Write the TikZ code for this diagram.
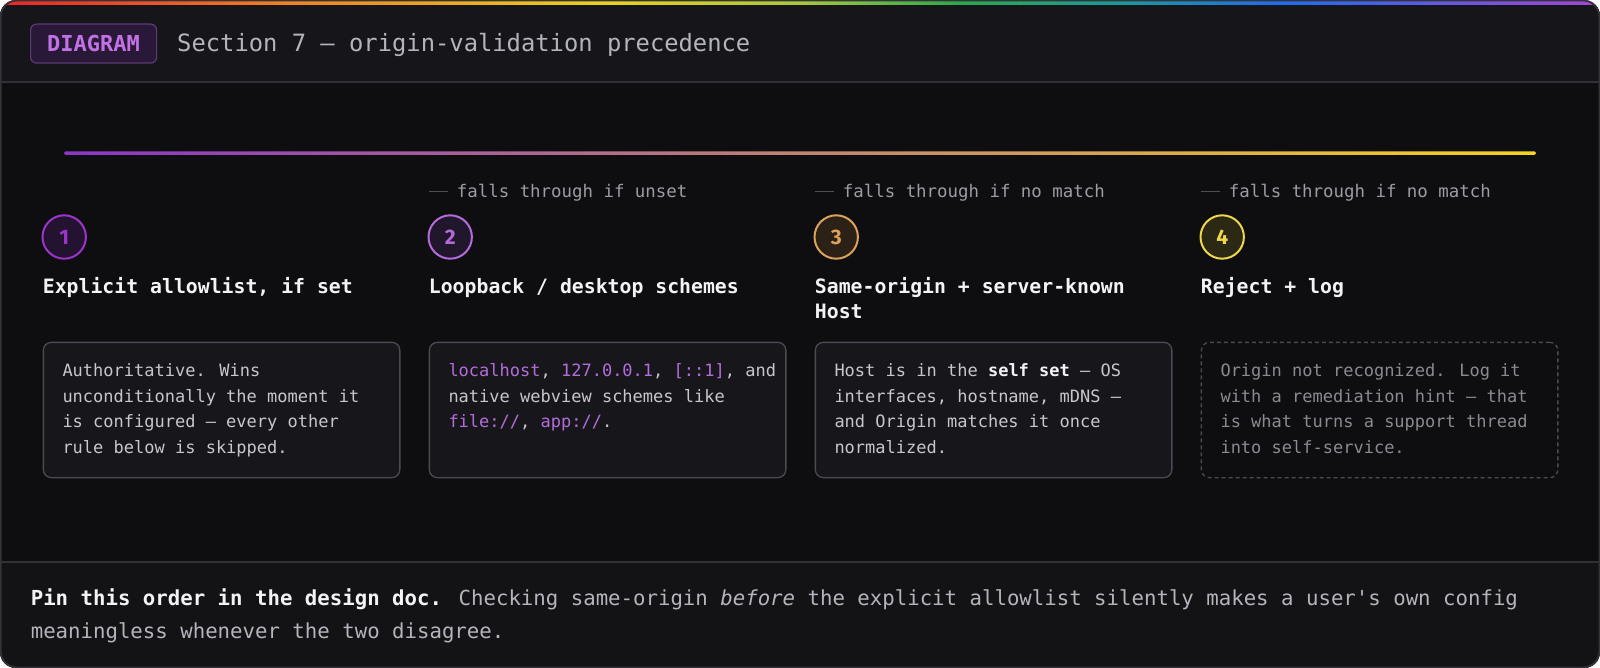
\documentclass[tikz,border=0pt]{standalone}
\usepackage{fontspec}
\setmainfont{DejaVu Sans Mono}
\newfontfamily\numfont{Fira Sans}
\definecolor{bgbody}{HTML}{0E0E11}
\definecolor{bghead}{HTML}{16161A}
\definecolor{bgfoot}{HTML}{131316}
\definecolor{framec}{HTML}{333338}
\definecolor{sepc}{HTML}{303035}
\definecolor{cardfill}{HTML}{17171B}
\definecolor{cardline}{HTML}{4A4A50}
\definecolor{txtbody}{HTML}{C6C6CC}
\definecolor{txtdim}{HTML}{8A8A90}
\definecolor{txtlabel}{HTML}{9C9CA3}
\definecolor{dashc}{HTML}{4E4E55}
\definecolor{hwhite}{HTML}{F3F3F6}
\definecolor{codec}{HTML}{B46CDC}
\definecolor{titlec}{HTML}{B4B4BC}
\definecolor{badgefill}{HTML}{2A1838}
\definecolor{badgeline}{HTML}{5C3A74}
\definecolor{badgetext}{HTML}{C173E6}
\definecolor{ca}{HTML}{9B34C9}\definecolor{caf}{HTML}{231230}
\definecolor{cb}{HTML}{B56AD9}\definecolor{cbf}{HTML}{21172C}
\definecolor{cc}{HTML}{DBA25A}\definecolor{ccf}{HTML}{2B2117}
\definecolor{cd}{HTML}{EED64E}\definecolor{cdf}{HTML}{2B2814}
\definecolor{rba}{HTML}{E5262A}
\definecolor{rbb}{HTML}{F07D22}
\definecolor{rbc}{HTML}{E9D21F}
\definecolor{rbd}{HTML}{A8C83A}
\definecolor{rbe}{HTML}{2AA84E}
\definecolor{rbf}{HTML}{1A9A9A}
\definecolor{rbg}{HTML}{1F6CF0}
\definecolor{rbh}{HTML}{A545D5}
\definecolor{gla}{HTML}{8A36C6}
\definecolor{glb}{HTML}{CC8A72}
\definecolor{glc}{HTML}{F4D321}
\pgfdeclarehorizontalshading{rainbow}{100bp}{color(0bp)=(rba); color(25bp)=(rba); color(33.5bp)=(rbb); color(44bp)=(rbc); color(50bp)=(rbd); color(55bp)=(rbe); color(60bp)=(rbf); color(65bp)=(rbg); color(75bp)=(rbh); color(100bp)=(rbh)}
\tikzset{
  badge/.style={draw=badgeline, fill=badgefill, line width=1.2pt, rounded corners=6pt,
    minimum width=126pt, minimum height=39pt, inner sep=0pt, text=badgetext,
    font=\fontsize{22}{26}\selectfont\bfseries},
  titletext/.style={anchor=base west, inner sep=0pt, text=titlec, font=\fontsize{23.8}{28}\selectfont},
  falllabel/.style={anchor=base west, inner sep=0pt, text=txtlabel, font=\fontsize{17.4}{22}\selectfont},
  stepnum/.style={circle, line width=2pt, minimum size=43.4pt, inner sep=0pt,
    font=\fontsize{21}{24}\numfont\bfseries},
  stephead/.style={anchor=base west, inner sep=0pt, text=hwhite, align=left,
    font=\fontsize{19.8}{25}\selectfont\bfseries},
  card/.style={anchor=north west, draw=cardline, fill=cardfill, line width=1.3pt,
    rounded corners=8pt, minimum width=356.5pt, minimum height=135.3pt, inner sep=0pt},
  ghostcard/.style={card, fill=none, dash pattern=on 4pt off 3pt},
  cardtext/.style={anchor=base west, inner sep=0pt, text=txtbody, align=left,
    font=\fontsize{17}{25.5}\selectfont},
  footnote/.style={anchor=base west, inner sep=0pt, text=titlec, align=left,
    font=\fontsize{20.7}{33}\selectfont},
}
\newcommand{\fallmark}{\textcolor{dashc}{\rule[5pt]{19pt}{1.2pt}}\hspace{9pt}}
\newcommand{\codebit}[1]{\textcolor{codec}{#1}}
\begin{document}
\begin{tikzpicture}[x=1pt, y=-1pt]
\useasboundingbox (0,0) rectangle (1600,668);
% frame and bands
\begin{scope}
  \clip[rounded corners=16pt] (0,0) rectangle (1600,668);
  \fill[bgbody] (0,0) rectangle (1600,668);
  \fill[bghead] (0,0) rectangle (1600,82);
  \fill[bgfoot] (0,562) rectangle (1600,668);
  \shade[shading=rainbow] (0,0) rectangle (1600,4.5);
  \draw[sepc, line width=1.5pt] (0,82) -- (1600,82);
  \draw[sepc, line width=1.5pt] (0,562) -- (1600,562);
\end{scope}
\draw[framec, line width=1.5pt, rounded corners=16pt] (0.75,0.75) rectangle (1599.25,667.25);
% header
\node[badge] (badge) at (93.6,43.6) {DIAGRAM};
\node[titletext] (title) at (177,52) {Section 7 — origin-validation precedence};
% gradient rule
\shade[left color=gla, middle color=glb, right color=glc, rounded corners=1.5pt] (64,151.3) rectangle (1536,154.8);
% column 1 (multi-line nodes: base anchor = last line's baseline)
\node[stepnum, draw=ca, fill=caf, text=ca] (n1) at (64.2,237) {1};
\node[stephead] (h1) at (42.7,293) {Explicit allowlist, if set};
\node[card] (b1) at (42.7,341.7) {};
\node[cardtext] (t1) at (62.3,453.2) {Authoritative. Wins\\unconditionally the moment it\\is configured — every other\\rule below is skipped.};
% column 2
\node[falllabel] (f2) at (428.7,197.5) {\fallmark falls through if unset};
\node[stepnum, draw=cb, fill=cbf, text=cb] (n2) at (450.2,237) {2};
\node[stephead] (h2) at (428.7,293) {Loopback / desktop schemes};
\node[card] (b2) at (428.7,341.7) {};
\node[cardtext] (t2) at (448.3,427.7) {\codebit{localhost}, \codebit{127.0.0.1}, \codebit{[::1]}, and\\native webview schemes like\\\codebit{file://}, \codebit{app://}.};
% column 3
\node[falllabel] (f3) at (814.7,197.5) {\fallmark falls through if no match};
\node[stepnum, draw=cc, fill=ccf, text=cc] (n3) at (836.2,237) {3};
\node[stephead] (h3) at (814.7,318) {Same-origin + server-known\\Host};
\node[card] (b3) at (814.7,341.7) {};
\node[cardtext] (t3) at (834.3,453.2) {Host is in the \textcolor{hwhite}{\bfseries self set} — OS\\interfaces, hostname, mDNS —\\and Origin matches it once\\normalized.};
% column 4
\node[falllabel] (f4) at (1200.7,197.5) {\fallmark falls through if no match};
\node[stepnum, draw=cd, fill=cdf, text=cd] (n4) at (1222.2,237) {4};
\node[stephead] (h4) at (1200.7,293) {Reject + log};
\node[ghostcard] (b4) at (1200.7,341.7) {};
\node[cardtext, text=txtdim] (t4) at (1220.3,453.2) {Origin not recognized. Log it\\with a remediation hint — that\\is what turns a support thread\\into self-service.};
% footer
\node[footnote] (foot) at (30.6,638) {\textcolor{hwhite}{\bfseries Pin this order in the design doc.} Checking same-origin \textit{before} the explicit allowlist silently makes a user\textquotesingle s own config\\meaningless whenever the two disagree.};
\end{tikzpicture}
\end{document}
